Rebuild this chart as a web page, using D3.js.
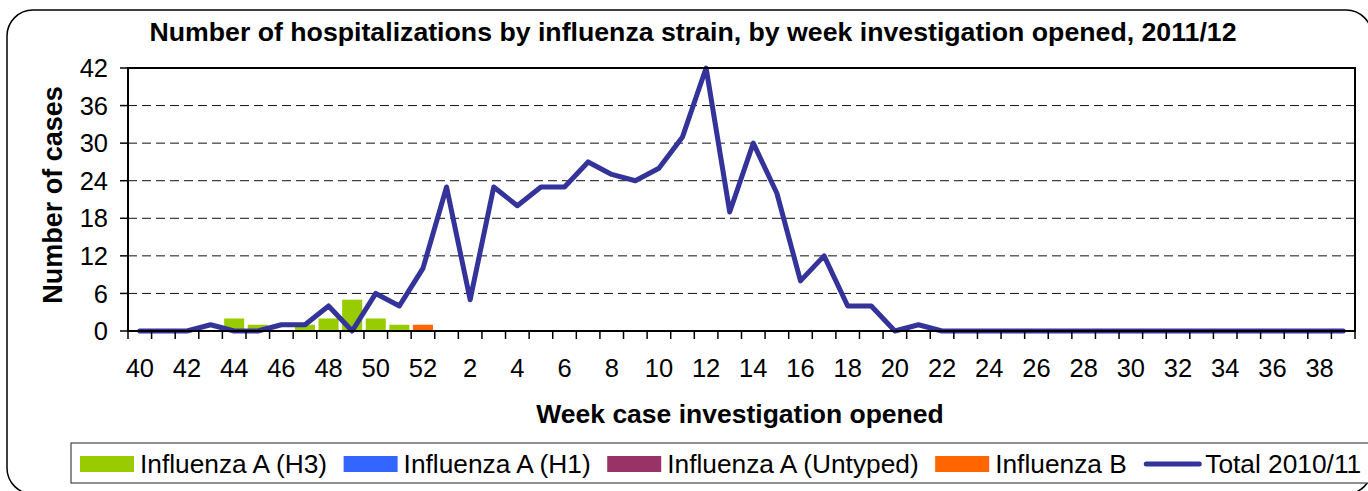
<!DOCTYPE html>
<html>
<head>
<meta charset="utf-8">
<script src="https://cdn.jsdelivr.net/npm/d3@7"></script>
<style>
  body { margin: 0; background: #fff; }
  svg { display: block; font-family: "Liberation Sans", Arial, sans-serif; }
</style>
</head>
<body>
<svg id="chart" width="1368" height="491"></svg>
<script>
// week numbers, 2011 wk40 .. 2012 wk39
var weeks = [40, 41, 42, 43, 44, 45, 46, 47, 48, 49, 50, 51, 52,
    1, 2, 3, 4, 5, 6, 7, 8, 9, 10, 11, 12, 13, 14, 15, 16, 17, 18, 19, 20,
    21, 22, 23, 24, 25, 26, 27, 28, 29, 30, 31, 32, 33, 34, 35, 36, 37, 38, 39];

var fluH3 = [0, 0, 0, 0, 2, 1, 0, 1, 2, 5, 2, 1, 0,
    0, 0, 0, 0, 0, 0, 0, 0, 0, 0, 0, 0, 0, 0, 0, 0, 0, 0, 0, 0,
    0, 0, 0, 0, 0, 0, 0, 0, 0, 0, 0, 0, 0, 0, 0, 0, 0, 0, 0];
var fluH1 = [0, 0, 0, 0, 0, 0, 0, 0, 0, 0, 0, 0, 0,
    0, 0, 0, 0, 0, 0, 0, 0, 0, 0, 0, 0, 0, 0, 0, 0, 0, 0, 0, 0,
    0, 0, 0, 0, 0, 0, 0, 0, 0, 0, 0, 0, 0, 0, 0, 0, 0, 0, 0];
var fluUntyped = [0, 0, 0, 0, 0, 0, 0, 0, 0, 0, 0, 0, 0,
    0, 0, 0, 0, 0, 0, 0, 0, 0, 0, 0, 0, 0, 0, 0, 0, 0, 0, 0, 0,
    0, 0, 0, 0, 0, 0, 0, 0, 0, 0, 0, 0, 0, 0, 0, 0, 0, 0, 0];
var fluB = [0, 0, 0, 0, 0, 0, 0, 0, 0, 0, 0, 0, 1,
    0, 0, 0, 0, 0, 0, 0, 0, 0, 0, 0, 0, 0, 0, 0, 0, 0, 0, 0, 0,
    0, 0, 0, 0, 0, 0, 0, 0, 0, 0, 0, 0, 0, 0, 0, 0, 0, 0, 0];
// total 2010/11 season
var total1011 = [0, 0, 0, 1, 0, 0, 1, 1, 4, 0, 6, 4, 10,
    23, 5, 23, 20, 23, 23, 27, 25, 24, 26, 31, 42, 19, 30, 22, 8, 12, 4, 4, 0,
    1, 0, 0, 0, 0, 0, 0, 0, 0, 0, 0, 0, 0, 0, 0, 0, 0, 0, 0];

var yTicks = [0, 6, 12, 18, 24, 30, 36, 42];
var xTickLabels = ["40", "42", "44", "46", "48", "50", "52", "2", "4", "6", "8", "10",
    "12", "14", "16", "18", "20", "22", "24", "26", "28", "30", "32", "34", "36", "38"];

var seriesNames = ["Influenza A (H3)", "Influenza A (H1)", "Influenza A (Untyped)", "Influenza B"];
var seriesColors = ["#99cc00", "#3366ff", "#993366", "#ff6600"];
var lineName = "Total 2010/11";
var lineColor = "#333399";

var svg = d3.select("#chart");
var margin = {top: 68, right: 13, bottom: 160, left: 128};
var width = svg.attr("width") - margin.left - margin.right;
var height = svg.attr("height") - margin.top - margin.bottom;

// outer rounded frame
svg.append("rect")
    .attr("x", 7).attr("y", 10)
    .attr("width", 1365).attr("height", 484)
    .attr("rx", 26).attr("ry", 26)
    .attr("fill", "none")
    .attr("stroke", "#000")
    .attr("stroke-width", 1.5);

svg.append("text")
    .attr("x", 693).attr("y", 41)
    .attr("text-anchor", "middle")
    .style("font-size", "26.7px")
    .style("font-weight", "bold")
    .text("Number of hospitalizations by influenza strain, by week investigation opened, 2011/12");

var g = svg.append("g")
    .attr("transform", "translate(" + margin.left + "," + margin.top + ")");

var idx = weeks.map(function(d, i) { return i; });
var x = d3.scaleBand().domain(idx).range([0, width]);
var xBar = d3.scaleBand().domain(idx).range([0, width]).paddingInner(0.15).paddingOuter(0.075);
var y = d3.scaleLinear().domain([0, 42]).range([height, 0]);

// gridlines
g.selectAll(".grid")
    .data(yTicks.filter(function(d) { return d > 0 && d < 42; }))
    .enter().append("line")
    .attr("x1", 0).attr("x2", width)
    .attr("y1", function(d) { return y(d); })
    .attr("y2", function(d) { return y(d); })
    .attr("stroke", "#111")
    .attr("stroke-width", 1)
    .attr("stroke-dasharray", "9,5");

// stacked bars
var rows = weeks.map(function(w, i) {
    return {i: i, s0: fluH3[i], s1: fluH1[i], s2: fluUntyped[i], s3: fluB[i]};
});
var stack = d3.stack().keys(["s0", "s1", "s2", "s3"]);
var layers = stack(rows);

g.selectAll(".layer")
    .data(layers)
    .enter().append("g")
    .attr("fill", function(d, k) { return seriesColors[k]; })
    .selectAll("rect")
    .data(function(d) { return d.filter(function(p) { return p[1] - p[0] > 0; }); })
    .enter().append("rect")
    .attr("x", function(d) { return xBar(d.data.i); })
    .attr("width", xBar.bandwidth())
    .attr("y", function(d) { return y(d[1]); })
    .attr("height", function(d) { return y(d[0]) - y(d[1]); });

// total line
var line = d3.line()
    .x(function(d, i) { return x(i) + x.bandwidth() / 2; })
    .y(function(d) { return y(d); });

g.append("path")
    .datum(total1011)
    .attr("d", line)
    .attr("fill", "none")
    .attr("stroke", lineColor)
    .attr("stroke-width", 5)
    .attr("stroke-linejoin", "round")
    .attr("stroke-linecap", "round");

// plot frame
g.append("rect")
    .attr("x", 0).attr("y", 0)
    .attr("width", width).attr("height", height)
    .attr("fill", "none")
    .attr("stroke", "#000")
    .attr("stroke-width", 2);

// y axis ticks + labels
g.selectAll(".ytick")
    .data(yTicks)
    .enter().append("line")
    .attr("x1", -8).attr("x2", 0)
    .attr("y1", function(d) { return y(d); })
    .attr("y2", function(d) { return y(d); })
    .attr("stroke", "#000")
    .attr("stroke-width", 1.5);

g.selectAll(".ylab")
    .data(yTicks)
    .enter().append("text")
    .attr("x", -20)
    .attr("y", function(d) { return y(d); })
    .attr("dy", "0.36em")
    .attr("text-anchor", "end")
    .style("font-size", "25.5px")
    .text(function(d) { return d; });

// x axis ticks at band edges
var edges = idx.concat([weeks.length]);
g.selectAll(".xtick")
    .data(edges)
    .enter().append("line")
    .attr("x1", function(d) { return d < weeks.length ? x(d) : width; })
    .attr("x2", function(d) { return d < weeks.length ? x(d) : width; })
    .attr("y1", height).attr("y2", height + 8)
    .attr("stroke", "#000")
    .attr("stroke-width", 1.5);

var labelled = idx.filter(function(i) { return i % 2 === 0; });
g.selectAll(".xlab")
    .data(labelled)
    .enter().append("text")
    .attr("x", function(d) { return x(d) + x.bandwidth() / 2; })
    .attr("y", height + 46)
    .attr("text-anchor", "middle")
    .style("font-size", "25.5px")
    .text(function(d, k) { return xTickLabels[k]; });

// axis titles
svg.append("text")
    .attr("transform", "translate(62,195) rotate(-90)")
    .attr("text-anchor", "middle")
    .style("font-size", "27px")
    .style("font-weight", "bold")
    .text("Number of cases");

svg.append("text")
    .attr("x", 740).attr("y", 423)
    .attr("text-anchor", "middle")
    .style("font-size", "26.5px")
    .style("font-weight", "bold")
    .text("Week case investigation opened");

// legend
svg.append("rect")
    .attr("x", 71).attr("y", 443)
    .attr("width", 1310).attr("height", 40)
    .attr("fill", "#fff")
    .attr("stroke", "#444")
    .attr("stroke-width", 1.2);

var lx = 80;
seriesNames.forEach(function(name, k) {
    svg.append("rect")
        .attr("x", lx).attr("y", 456)
        .attr("width", 54).attr("height", 16)
        .attr("fill", seriesColors[k]);
    var t = svg.append("text")
        .attr("x", lx + 60).attr("y", 473)
        .style("font-size", "26.3px")
        .text(name);
    lx = lx + 60 + t.node().getComputedTextLength() + 16.5;
});
svg.append("line")
    .attr("x1", lx + 3).attr("x2", lx + 56)
    .attr("y1", 464).attr("y2", 464)
    .attr("stroke", lineColor)
    .attr("stroke-width", 5)
    .attr("stroke-linecap", "round");
svg.append("text")
    .attr("x", lx + 62).attr("y", 473)
    .style("font-size", "26.3px")
    .text(lineName);
</script>
</body>
</html>
